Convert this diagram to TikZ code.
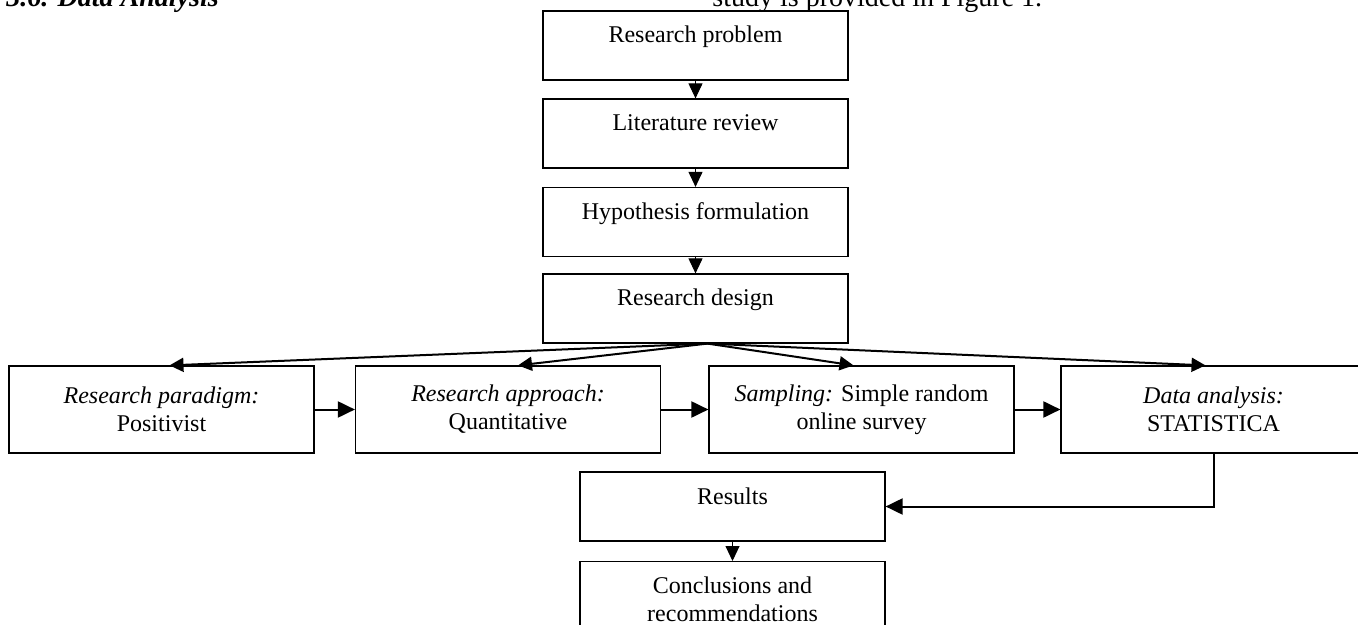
\documentclass[tikz,border=0pt]{standalone}
\usepackage{fontspec}
\setmainfont{Liberation Serif}
\usetikzlibrary{arrows.meta}

\tikzset{
  box/.style={draw, line width=0.6pt, minimum width=152.5pt, inner sep=0pt,
    text height=16pt, text depth=18.5pt, font=\fontsize{12}{14}\selectfont},
  wide/.style={draw, line width=0.6pt, minimum width=152.5pt, minimum height=43.5pt,
    align=center, font=\fontsize{12}{14}\selectfont},
  arr/.style={-{Triangle[length=7.5pt,width=7pt]}, line width=0.5pt},
  fan/.style={-{Triangle[length=7pt,width=7pt]}, line width=1pt},
  fat/.style={-{Triangle[length=8.5pt,width=8pt]}, line width=1pt}
}

\begin{document}
\begin{tikzpicture}[x=0.5pt,y=-0.5pt]

\useasboundingbox (0,0) rectangle (1358,625);
\clip (0,0) rectangle (1358,625);

% Page text (cut off)
\node[anchor=base west, inner sep=0pt, font=\fontsize{14}{16}\selectfont\bfseries\itshape] (head) at (6,7) {3.6. Data Analysis};
\node[anchor=base west, inner sep=0pt, font=\fontsize{14}{16}\selectfont] (study) at (712,7) {study is provided in Figure 1.};

% Main column
\node[box] (problem) at (695.5,45.5) {Research problem};
\node[box] (review) at (695.5,133.5) {Literature review};
\node[box] (hypo) at (695.5,222) {Hypothesis formulation};
\node[box] (design) at (695.5,308.5) {Research design};

% Design choices
\node[wide] (paradigm) at (161.5,409.5) {\textit{Research paradigm:}\\ Positivist};
\node[wide] (approach) at (508,409.5) {\textit{Research approach:}\\ Quantitative};
\node[wide] (sampling) at (861.5,409.5) {\textit{Sampling:} Simple random\\ online survey};
\node[wide] (data) at (1213.5,409.5) {\textit{Data analysis:}\\ STATISTICA};

% Outcome
\node[box] (results) at (732.5,506.5) {Results};
\node[wide, anchor=north, minimum height=37.5pt] (concl) at (732.5,561) {Conclusions and\\ recommendations};

\foreach \a/\b in {problem/review, review/hypo, hypo/design, results/concl}
{
\draw[arr] (\a) -- (\b);
}

\foreach \n/\s in {paradigm/4pt, approach/5pt, sampling/-4pt, data/-4pt}
{
\draw[fan] ([xshift=6pt]design.south) -- ([xshift=\s]\n.north);
}

\foreach \a/\b in {paradigm/approach, approach/sampling, sampling/data}
{
\draw[fat] (\a) -- (\b);
}

\draw[fat] (data.south) |- (results.east);

\end{tikzpicture}
\end{document}
